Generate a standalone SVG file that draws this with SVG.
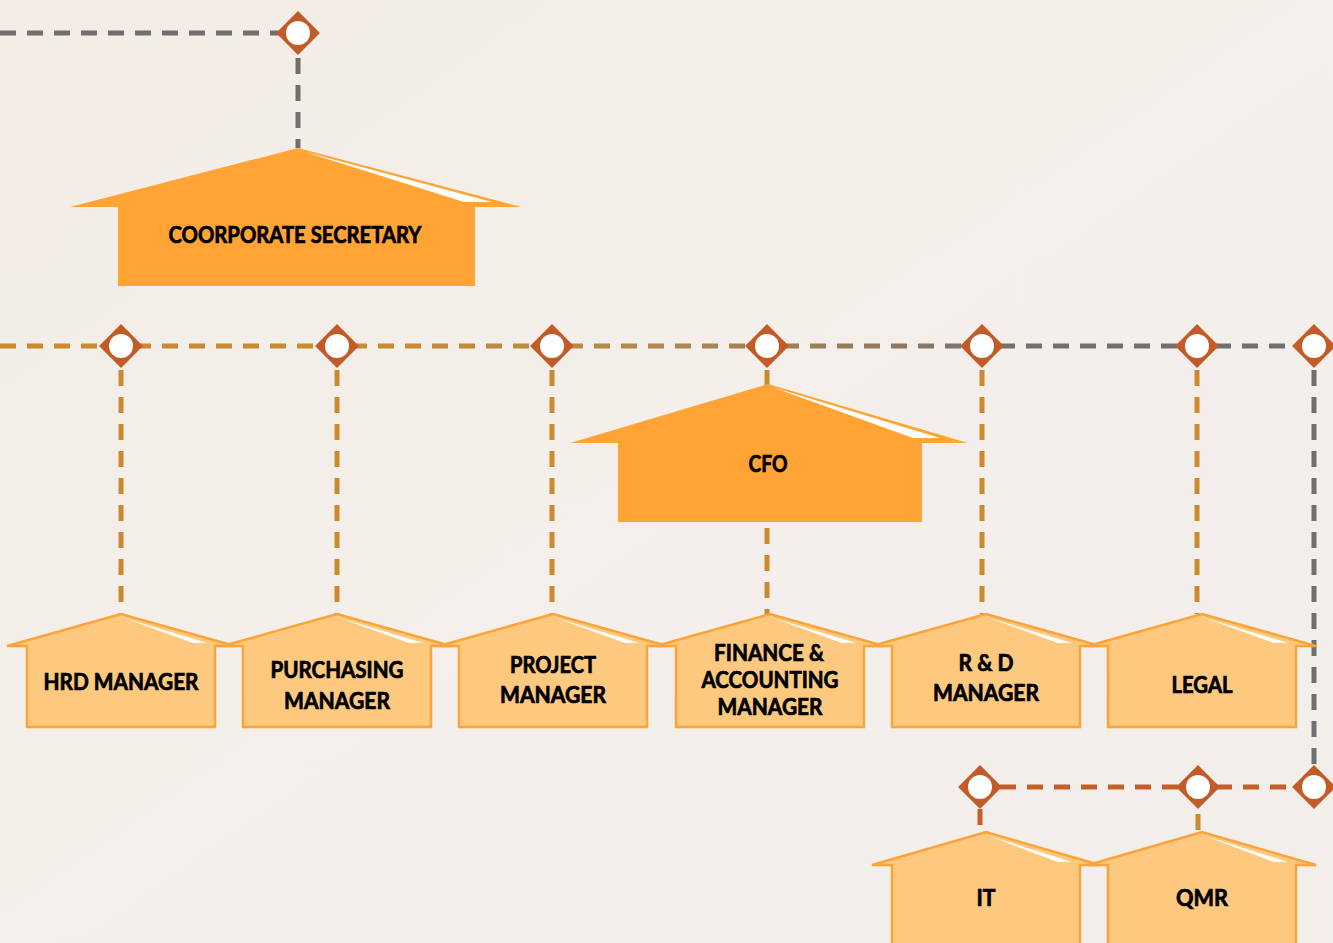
<svg xmlns="http://www.w3.org/2000/svg" width="1333" height="943" viewBox="0 0 1333 943">
  <defs>
    <linearGradient id="bg" x1="0" y1="0" x2="1" y2="1">
      <stop offset="0" stop-color="#F3EDE6"/>
      <stop offset="0.5" stop-color="#F4EFEA"/>
      <stop offset="1" stop-color="#F2EEEA"/>
    </linearGradient>
    <linearGradient id="mainline" gradientUnits="userSpaceOnUse" x1="0" y1="0" x2="1333" y2="0">
      <stop offset="0" stop-color="#CC8A2E"/>
      <stop offset="0.3" stop-color="#C88A34"/>
      <stop offset="0.47" stop-color="#B38A4A"/>
      <stop offset="0.6" stop-color="#9E7E55"/>
      <stop offset="0.71" stop-color="#857466"/>
      <stop offset="0.76" stop-color="#707070"/>
      <stop offset="1" stop-color="#6F6F70"/>
    </linearGradient>
    <g id="diamond">
      <rect x="-15.5" y="-15.5" width="31" height="31" transform="rotate(45)" fill="#C25B27"/>
      <circle r="12" fill="#FFFFFF"/>
    </g>
  </defs>
  <style>
    .dash { fill: none; stroke-width: 5; stroke-dasharray: 16 11; }
    .gold { stroke: #CC8A2E; }
    .gray { stroke: #6F6F70; }
    .rust { stroke: #C45E2A; }
    .big { fill: #FFA435; }
    .small { fill: #FDC97F; stroke: #FBA43A; stroke-width: 2.5; stroke-linejoin: miter; }
    .hl { fill: #FFFFFF; }
    .lbl { font-family: Lato, "Open Sans", "Liberation Sans", sans-serif; font-weight: 700; font-size: 22px; fill: #000000; stroke: #000000; stroke-width: 0.7; text-anchor: middle; }
  </style>

  <rect width="1333" height="943" fill="url(#bg)"/>

  <g id="connectors">
    <line class="dash gray" x1="0" y1="33" x2="280" y2="33"/>
    <line class="dash gray" x1="298" y1="58" x2="298" y2="148" stroke-dasharray="14 10"/>
    <line class="dash" x1="0" y1="346" x2="1313" y2="346" stroke="url(#mainline)"/>
    <line class="dash gold" x1="121" y1="370" x2="121" y2="614" stroke-dasharray="14 10"/>
    <line class="dash gold" x1="337" y1="370" x2="337" y2="614" stroke-dasharray="14 10"/>
    <line class="dash gold" x1="552" y1="370" x2="552" y2="614" stroke-dasharray="14 10"/>
    <line class="dash gold" x1="767" y1="370" x2="767" y2="385" stroke-dasharray="14 10"/>
    <line class="dash gold" x1="767" y1="528" x2="767" y2="614" stroke-dasharray="14 10"/>
    <line class="dash gold" x1="982" y1="370" x2="982" y2="614" stroke-dasharray="14 10"/>
    <line class="dash gold" x1="1197" y1="370" x2="1197" y2="614" stroke-dasharray="14 10"/>
    <line class="dash gray" x1="1314" y1="370" x2="1314" y2="765" stroke-dasharray="14 10"/>
    <line class="dash rust" x1="1000" y1="787" x2="1313" y2="787"/>
    <line class="dash rust" x1="980" y1="809" x2="980" y2="831" stroke-dasharray="12 8"/>
    <line class="dash gold" x1="1198" y1="814" x2="1198" y2="831" stroke-dasharray="14 10"/>
    <use href="#diamond" x="298" y="33"/>
    <use href="#diamond" x="121" y="346"/>
    <use href="#diamond" x="337" y="346"/>
    <use href="#diamond" x="552" y="346"/>
    <use href="#diamond" x="767" y="346"/>
    <use href="#diamond" x="982" y="346"/>
    <use href="#diamond" x="1197" y="346"/>
    <use href="#diamond" x="1314" y="346"/>
    <use href="#diamond" x="980" y="787"/>
    <use href="#diamond" x="1198" y="787"/>
    <use href="#diamond" x="1314" y="787"/>
  </g>

  <g id="coorporate-secretary">
    <path class="big" d="M70,207 L298,148 L521,207 L475,207 L475,286 L118,286 L118,207 Z"/>
    <path class="hl" d="M302,151 L492,202 L464,202 Z"/>
    <text class="lbl" x="295" y="243" textLength="253" lengthAdjust="spacingAndGlyphs">COORPORATE SECRETARY</text>
  </g>

  <g id="cfo">
    <path class="big" d="M570,443 L768,384 L968,443 L922,443 L922,522 L618,522 L618,443 Z"/>
    <path class="hl" d="M772,387 L940,438 L913,438 Z"/>
    <text class="lbl" x="768" y="472" textLength="39" lengthAdjust="spacingAndGlyphs">CFO</text>
  </g>

  <g id="hrd-manager">
    <path class="small" d="M7,646 L121,614 L235,646 L215,646 L215,727 L27,727 L27,646 Z"/>
    <path class="hl" d="M124,618 L207,643 L193,643 Z"/>
    <text class="lbl" x="121" y="690" textLength="155" lengthAdjust="spacingAndGlyphs">HRD MANAGER</text>
  </g>

  <g id="purchasing-manager">
    <path class="small" d="M223,646 L337,614 L451,646 L431,646 L431,727 L243,727 L243,646 Z"/>
    <path class="hl" d="M340,618 L423,643 L409,643 Z"/>
    <text class="lbl" x="337" y="678" textLength="133" lengthAdjust="spacingAndGlyphs">PURCHASING</text>
    <text class="lbl" x="337" y="709" textLength="106" lengthAdjust="spacingAndGlyphs">MANAGER</text>
  </g>

  <g id="project-manager">
    <path class="small" d="M439,646 L553,614 L667,646 L647,646 L647,727 L459,727 L459,646 Z"/>
    <path class="hl" d="M556,618 L639,643 L625,643 Z"/>
    <text class="lbl" x="553" y="673" textLength="86" lengthAdjust="spacingAndGlyphs">PROJECT</text>
    <text class="lbl" x="553" y="703" textLength="106" lengthAdjust="spacingAndGlyphs">MANAGER</text>
  </g>

  <g id="finance-accounting-manager">
    <path class="small" d="M656,646 L770,614 L884,646 L864,646 L864,727 L676,727 L676,646 Z"/>
    <path class="hl" d="M773,618 L856,643 L842,643 Z"/>
    <text class="lbl" x="769" y="661" textLength="110" lengthAdjust="spacingAndGlyphs">FINANCE &amp;</text>
    <text class="lbl" x="770" y="688" textLength="137" lengthAdjust="spacingAndGlyphs">ACCOUNTING</text>
    <text class="lbl" x="770" y="715" textLength="105" lengthAdjust="spacingAndGlyphs">MANAGER</text>
  </g>

  <g id="rd-manager">
    <path class="small" d="M872,646 L986,614 L1100,646 L1080,646 L1080,727 L892,727 L892,646 Z"/>
    <path class="hl" d="M989,618 L1072,643 L1058,643 Z"/>
    <text class="lbl" x="986" y="671" textLength="55" lengthAdjust="spacingAndGlyphs">R &amp; D</text>
    <text class="lbl" x="986" y="701" textLength="106" lengthAdjust="spacingAndGlyphs">MANAGER</text>
  </g>

  <g id="legal">
    <path class="small" d="M1088,646 L1202,614 L1316,646 L1296,646 L1296,727 L1108,727 L1108,646 Z"/>
    <path class="hl" d="M1205,618 L1288,643 L1274,643 Z"/>
    <text class="lbl" x="1202" y="693" textLength="61" lengthAdjust="spacingAndGlyphs">LEGAL</text>
  </g>

  <g id="it">
    <path class="small" d="M872,865 L986,832 L1100,865 L1080,865 L1080,950 L892,950 L892,865 Z"/>
    <path class="hl" d="M989,836 L1072,862 L1058,862 Z"/>
    <text class="lbl" x="986" y="906" textLength="19" lengthAdjust="spacingAndGlyphs">IT</text>
  </g>

  <g id="qmr">
    <path class="small" d="M1088,865 L1202,832 L1316,865 L1296,865 L1296,950 L1108,950 L1108,865 Z"/>
    <path class="hl" d="M1205,836 L1288,862 L1274,862 Z"/>
    <text class="lbl" x="1202" y="906" textLength="52" lengthAdjust="spacingAndGlyphs">QMR</text>
  </g>
</svg>
